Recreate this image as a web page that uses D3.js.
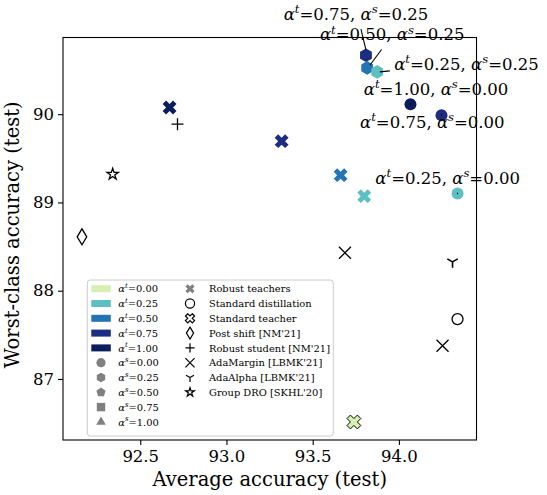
<!DOCTYPE html>
<html>
<head>
<meta charset="utf-8">
<script src="https://cdn.jsdelivr.net/npm/d3@7"></script>
<style>
  body { margin: 0; background: #fff; }
  text { font-family: "DejaVu Serif", serif; fill: #000; }
</style>
</head>
<body>
<svg id="chart" width="547" height="495"></svg>
<script>
// ---- data -------------------------------------------------------------
// teacher mixing weight alpha^t and its colour
const alphaTLevels = [0.00, 0.25, 0.50, 0.75, 1.00];
const alphaTColors = ["#d6efb3", "#5cbfc2", "#2474b4", "#1c2d82", "#0b1e5b"];
// student mixing weight alpha^s and its marker shape
const alphaSLevels = [0.00, 0.25, 0.50, 0.75, 1.00];
const alphaSShapes = ["circle", "hexagon", "pentagon", "square", "triangle"];

// robust teachers
const teacherAlphaT = [1.00, 0.75, 0.50, 0.25];
const teacherAvg    = [92.670, 93.320, 93.662, 93.799];
const teacherWorst  = [90.076, 89.694, 89.309, 89.071];

// standard teacher (alpha^t = 0)
const stdTeacherAlphaT = [0.00];
const stdTeacherAvg    = [93.739];
const stdTeacherWorst  = [86.512];

// distilled students
const studentAlphaT = [0.75, 0.50, 0.25, 1.00, 0.75, 0.25];
const studentAlphaS = [0.25, 0.25, 0.25, 0.00, 0.00, 0.00];
const studentAvg    = [93.809, 93.816, 93.874, 94.067, 94.247, 94.340];
const studentWorst  = [90.668, 90.524, 90.479, 90.113, 89.989, 89.102];

// baselines
const baselineNames = ["Standard distillation", "Post shift [NM'21]", "Robust student [NM'21]",
                       "AdaMargin [LBMK'21]", "AdaMargin [LBMK'21]", "AdaAlpha [LBMK'21]", "Group DRO [SKHL'20]"];
const baselineAvg   = [94.340, 92.162, 92.716, 93.687, 94.253, 94.311, 92.340];
const baselineWorst = [87.678, 88.610, 89.887, 88.429, 87.376, 88.327, 89.320];

// legend entries for methods (second column)
const methodNames = ["Robust teachers", "Standard distillation", "Standard teacher", "Post shift [NM'21]",
                     "Robust student [NM'21]", "AdaMargin [LBMK'21]", "AdaAlpha [LBMK'21]", "Group DRO [SKHL'20]"];

const xTicks = [92.5, 93.0, 93.5, 94.0];
const yTicks = [87, 88, 89, 90];
const xDomain = [92.052, 94.450];
const yDomain = [86.308, 90.869];

// ---- styling / layout ---------------------------------------------------
const methodStyle = {
  "Robust teachers":        { shape: "filledX",  fill: "#808080", stroke: "none" },
  "Standard distillation":  { shape: "circle",   fill: "none", stroke: "#000" },
  "Standard teacher":       { shape: "filledX",  fill: "#fff", stroke: "#000" },
  "Post shift [NM'21]":     { shape: "thinDiamond", fill: "none", stroke: "#000" },
  "Robust student [NM'21]": { shape: "plus",     fill: "none", stroke: "#000" },
  "AdaMargin [LBMK'21]":    { shape: "cross",    fill: "none", stroke: "#000" },
  "AdaAlpha [LBMK'21]":     { shape: "triDown",  fill: "none", stroke: "#000" },
  "Group DRO [SKHL'20]":    { shape: "star",     fill: "none", stroke: "#000" }
};

// annotation placement for each student (text offset, leader line from/to) in px
const studentLabelLayout = [
  { dx: -10,  dy: -35,  anchor: "middle", line: [-5, -26, 0, -5] },
  { dx: 25,   dy: -27.5, anchor: "middle", line: [14.4, -18.4, 2.7, -2.7] },
  { dx: 17,   dy: -1.5, anchor: "start",  line: [12.7, -1, 2.7, 0] },
  { dx: 25.6, dy: -9,   anchor: "middle", line: [0, -0.8, 0, 0.8] },
  { dx: -9.2, dy: 13,   anchor: "middle", line: [0, -0.8, 0, 0.8] },
  { dx: -9.9, dy: -9.3, anchor: "middle", line: [0, -0.8, 0, 0.8] }
];

const W = 547, H = 495;
const margin = { left: 63, top: 37.5, right: 70.5, bottom: 55 };
const plotW = W - margin.left - margin.right;
const plotH = H - margin.top - margin.bottom;

const svg = d3.select("#chart");
const g = svg.append("g").attr("transform", `translate(${margin.left},${margin.top})`);

const x = d3.scaleLinear().domain(xDomain).range([0, plotW]);
const y = d3.scaleLinear().domain(yDomain).range([plotH, 0]);

const colorOf = d3.scaleOrdinal().domain(alphaTLevels).range(alphaTColors);
const shapeOf = d3.scaleOrdinal().domain(alphaSLevels).range(alphaSShapes);

// ---- marker paths --------------------------------------------------------
function polygon(n, r, start) {
  const pts = d3.range(n).map(i => {
    const a = start + i * 2 * Math.PI / n;
    return [r * Math.cos(a), r * Math.sin(a)];
  });
  return "M" + pts.map(p => p.join(",")).join("L") + "Z";
}
function markerPath(shape, r) {
  switch (shape) {
    case "circle":   return d3.symbol(d3.symbolCircle, Math.PI * r * r)();
    case "hexagon":  return polygon(6, r * 1.05, -Math.PI / 2);
    case "pentagon": return polygon(5, r * 1.05, -Math.PI / 2);
    case "square":   return `M${-r},${-r}H${r}V${r}H${-r}Z`;
    case "triangle": return polygon(3, r * 1.2, -Math.PI / 2);
    case "thinDiamond": return `M0,${-r}L${0.6 * r},0L0,${r}L${-0.6 * r},0Z`;
    case "plus":     return `M${-r},0H${r}M0,${-r}V${r}`;
    case "cross":    return `M${-r},${-r}L${r},${r}M${-r},${r}L${r},${-r}`;
    case "triDown": {
      const s = Math.sin(Math.PI / 3) * r, c = 0.5 * r;
      return `M0,0V${r}M0,0L${-s},${-c}M0,0L${s},${-c}`;
    }
    case "star":     return d3.symbol(d3.symbolStar, r * r * 1.7)();
    case "filledX": {
      // fat cross rotated by 45 degrees
      const a = r / 3 * 1.05, b = r * 1.05;
      const pts = [[-a,-b],[a,-b],[a,-a],[b,-a],[b,a],[a,a],[a,b],[-a,b],[-a,a],[-b,a],[-b,-a],[-a,-a]];
      const rot = pts.map(([px, py]) => [(px - py) / Math.SQRT2, (px + py) / Math.SQRT2]);
      return "M" + rot.map(p => p.join(",")).join("L") + "Z";
    }
  }
}
const openShapes = new Set(["plus", "cross", "triDown"]);

// ---- axes ----------------------------------------------------------------
const xAxis = g.append("g").attr("transform", `translate(0,${plotH})`)
  .call(d3.axisBottom(x).tickValues(xTicks).tickFormat(d3.format(".1f")).tickSize(5).tickPadding(4));
const yAxis = g.append("g")
  .call(d3.axisLeft(y).tickValues(yTicks).tickFormat(d3.format("d")).tickSize(5).tickPadding(4));
[xAxis, yAxis].forEach(a => {
  a.select(".domain").remove();
  a.selectAll(".tick line").attr("stroke", "#000").attr("stroke-width", 1.1);
  a.selectAll(".tick text").style("font-family", '"DejaVu Serif", serif').style("font-size", "16.5px").attr("fill", "#000");
});
xAxis.selectAll(".tick text").attr("dy", "0.78em");

g.append("text").attr("x", plotW / 2).attr("y", plotH + 45.5).attr("text-anchor", "middle")
  .style("font-size", "19.5px").text("Average accuracy (test)");
g.append("text").attr("transform", `translate(${-44},${plotH / 2 - 4}) rotate(-90)`).attr("text-anchor", "middle")
  .style("font-size", "19.5px").text("Worst-class accuracy (test)");

// ---- marks ---------------------------------------------------------------
const marks = g.append("g");

function drawMarker(sel, shape, r, fill, stroke, sw) {
  return sel.append("path")
    .attr("d", markerPath(shape, r))
    .attr("fill", openShapes.has(shape) ? "none" : fill)
    .attr("stroke", stroke)
    .attr("stroke-width", sw);
}

// robust teachers
teacherAvg.forEach((v, i) => {
  drawMarker(marks.append("g").attr("transform", `translate(${x(v)},${y(teacherWorst[i])})`),
    "filledX", 7, colorOf(teacherAlphaT[i]), "none", 0);
});
// standard teacher
stdTeacherAvg.forEach((v, i) => {
  drawMarker(marks.append("g").attr("transform", `translate(${x(v)},${y(stdTeacherWorst[i])})`),
    "filledX", 7, colorOf(stdTeacherAlphaT[i]), "#000", 1);
});
// baselines
baselineAvg.forEach((v, i) => {
  const st = methodStyle[baselineNames[i]];
  const r = st.shape === "circle" ? 5.5 : st.shape === "star" ? 4.8 : st.shape === "thinDiamond" ? 8 : 6;
  drawMarker(marks.append("g").attr("transform", `translate(${x(v)},${y(baselineWorst[i])})`),
    st.shape, r, "#fff", "#000", st.shape === "triDown" ? 1.6 : 1.3);
});
// students
studentAvg.forEach((v, i) => {
  const shape = shapeOf(studentAlphaS[i]);
  drawMarker(marks.append("g").attr("transform", `translate(${x(v)},${y(studentWorst[i])})`),
    shape, shape === "circle" ? 6 : 6.5, colorOf(studentAlphaT[i]), "none", 0);
});

// annotations of students
const fmt = d3.format(".2f");
function alphaLabel(textSel, sup, value, fs) {
  textSel.append("tspan").style("font-style", "italic").text("α");
  textSel.append("tspan").style("font-style", "italic").style("font-size", (fs * 0.7) + "px")
    .attr("dy", -fs * 0.42).text(sup);
  textSel.append("tspan").attr("dy", fs * 0.42).text("=" + value);
}
const ann = g.append("g");
studentAvg.forEach((v, i) => {
  const px = x(v), py = y(studentWorst[i]);
  const L = studentLabelLayout[i];
  ann.append("line")
    .attr("x1", px + L.line[0]).attr("y1", py + L.line[1])
    .attr("x2", px + L.line[2]).attr("y2", py + L.line[3])
    .attr("stroke", "#000").attr("stroke-width", 1.1);
  const fs = 16.5;
  const t = ann.append("text").attr("x", px + L.dx).attr("y", py + L.dy)
    .attr("text-anchor", L.anchor).style("font-size", fs + "px");
  alphaLabel(t, "t", fmt(studentAlphaT[i]) + ", ", fs);
  alphaLabel(t, "s", fmt(studentAlphaS[i]), fs);
});

// ---- frame ---------------------------------------------------------------
g.append("rect").attr("width", plotW).attr("height", plotH)
  .attr("fill", "none").attr("stroke", "#000").attr("stroke-width", 1.1);

// ---- legend --------------------------------------------------------------
const lg = g.append("g").attr("transform", `translate(${87.3 - margin.left},${280 - margin.top})`);
lg.append("rect").attr("width", 246).attr("height", 156).attr("rx", 3)
  .attr("fill", "#fff").attr("fill-opacity", 0.8).attr("stroke", "#cccccc").attr("stroke-width", 1);

const rowY = i => 8.7 + i * 14.8;
const lfs = 9.9;
const col1 = lg.append("g");
alphaTLevels.forEach((a, i) => {
  col1.append("rect").attr("x", 4).attr("y", rowY(i) - 3.5).attr("width", 19.5).attr("height", 7)
    .attr("fill", colorOf(a));
  const t = col1.append("text").attr("x", 31).attr("y", rowY(i) + 3.6).style("font-size", lfs + "px");
  alphaLabel(t, "t", fmt(a), lfs);
});
alphaSLevels.forEach((a, i) => {
  const k = i + alphaTLevels.length;
  const shape = shapeOf(a);
  drawMarker(col1.append("g").attr("transform", `translate(13.7,${rowY(k)})`),
    shape, shape === "square" ? 4.2 : 4.6, "#808080", "none", 0);
  const t = col1.append("text").attr("x", 31).attr("y", rowY(k) + 3.6).style("font-size", lfs + "px");
  alphaLabel(t, "s", fmt(a), lfs);
});
const col2 = lg.append("g");
methodNames.forEach((name, i) => {
  const st = methodStyle[name];
  const r = st.shape === "thinDiamond" ? 6 : st.shape === "star" ? 3.8 : 4.6;
  drawMarker(col2.append("g").attr("transform", `translate(102.7,${rowY(i)})`),
    st.shape, r, st.fill === "none" ? "#fff" : st.fill, st.stroke, st.shape === "filledX" && st.stroke === "none" ? 0 : 1.2);
  col2.append("text").attr("x", 121.7).attr("y", rowY(i) + 3.6).style("font-size", lfs + "px").text(name);
});
</script>
</body>
</html>
